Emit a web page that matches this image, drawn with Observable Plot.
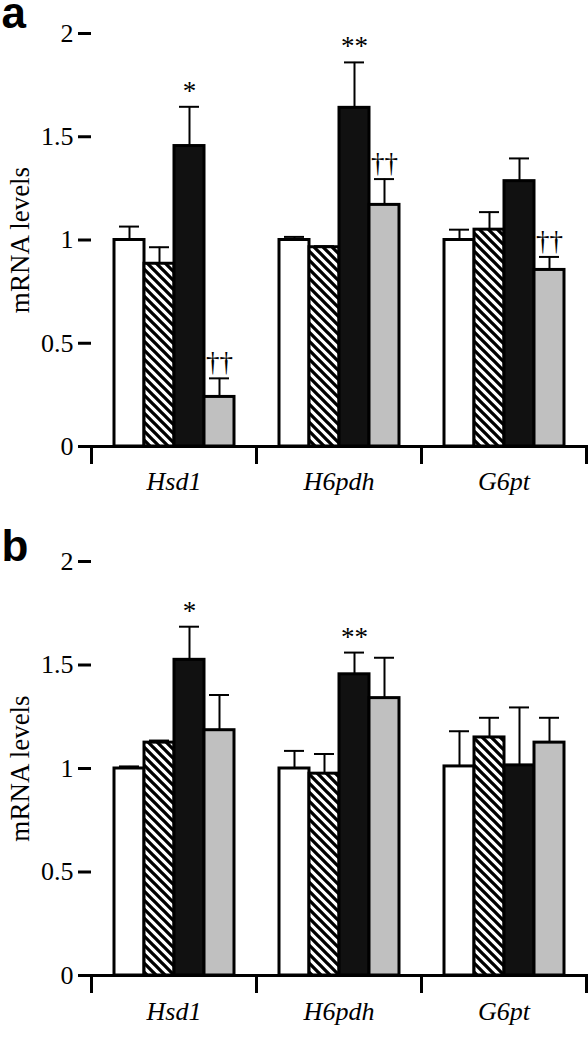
<!DOCTYPE html>
<html><head><meta charset="utf-8">
<script src="https://cdn.jsdelivr.net/npm/d3@7"></script>
<script src="https://cdn.jsdelivr.net/npm/@observablehq/plot@0.6"></script>
<style>
body{margin:0;background:#fff;}
#chart svg{display:block;}
</style>
</head><body>
<svg width="0" height="0" style="position:absolute"><defs>
<pattern id="hatch" patternUnits="userSpaceOnUse" width="9" height="9">
<rect width="9" height="9" fill="white"/>
<path d="M-2,-2 L11,11 M-2,7 L2,11 M7,-2 L11,2" stroke="black" stroke-width="3.3"/>
</pattern></defs></svg>
<div id="chart"></div>
<script>
const genes = ["Hsd1", "H6pdh", "G6pt"];
const groups = ["Group 1", "Group 2", "Group 3", "Group 4"];
const yTicks = [0, 0.5, 1, 1.5, 2];
const yTickLabels = ["0", "0.5", "1", "1.5", "2"];

// Panel a: rows = genes, columns = groups
const aMeans = [[1.00, 0.885, 1.455, 0.24], [1.00, 0.965, 1.64, 1.17], [1.00, 1.05, 1.285, 0.855]];
const aErrors = [[0.065, 0.08, 0.19, 0.09], [0.015, 0.005, 0.22, 0.125], [0.05, 0.085, 0.11, 0.063]];
const aSignif = [["", "", "*", "††"], ["", "", "**", "††"], ["", "", "", "††"]];

// Panel b
const bMeans = [[1.00, 1.125, 1.525, 1.185], [1.00, 0.975, 1.455, 1.34], [1.01, 1.15, 1.015, 1.125]];
const bErrors = [[0.01, 0.01, 0.16, 0.17], [0.085, 0.095, 0.105, 0.195], [0.17, 0.095, 0.28, 0.12]];
const bSignif = [["", "", "*", ""], ["", "", "**", ""], ["", "", "", ""]];

const groupFills = ["white", "url(#hatch)", "#111111", "#c0c0c0"];
const serif = "Liberation Serif";
const sans = "Liberation Sans";

function panel(letter, means, errors, signif, lay) {
  const rows = genes.flatMap((g, i) => groups.map((grp, j) => ({
    gene: g, group: grp, mean: means[i][j], err: errors[i][j],
    top: means[i][j] + errors[i][j], sig: signif[i][j]
  })));
  const plotH = lay.height - lay.marginTop - lay.marginBottom;
  const svg = Plot.plot({
    width: 588,
    height: lay.height,
    marginTop: lay.marginTop,
    marginBottom: lay.marginBottom,
    marginLeft: 90,
    marginRight: 2,
    style: {fontSize: "26px", color: "black", background: "white"},
    fx: {domain: genes, padding: 0, label: null},
    x: {domain: groups, type: "band", paddingInner: 0, paddingOuter: 0.73, axis: null},
    y: {domain: [0, 2], axis: null},
    color: {domain: groups, range: groupFills},
    marks: [
      Plot.barY(rows, {fx: "gene", x: "group", y: "mean", fill: "group", stroke: "black", strokeWidth: 3}),
      Plot.ruleX(rows, {fx: "gene", x: "group", y1: "mean", y2: "top", stroke: "black", strokeWidth: 2}),
      Plot.tickY(rows, {fx: "gene", x: "group", y: "top", stroke: "black", strokeWidth: 2, insetLeft: 5, insetRight: 5}),
      Plot.text(rows.filter(d => d.sig), {fx: "gene", x: "group", y: "top", text: "sig", lineAnchor: "bottom", dy: -7, fontSize: 27, fontFamily: serif}),
      Plot.ruleY([0], {stroke: "black", strokeWidth: 3}),
      Plot.frame({anchor: "left", stroke: "black", strokeWidth: 3, insetTop: plotH, insetBottom: -16}),
      Plot.frame({anchor: "right", stroke: "black", strokeWidth: 3, insetTop: plotH, insetBottom: -16}),
      Plot.axisY({ticks: yTicks, tickFormat: d => yTickLabels[yTicks.indexOf(d)], tickSize: 13, tickPadding: 5, fontSize: 26, fontFamily: serif, strokeWidth: 3, line: true, label: null}),
      Plot.axisFx({anchor: "bottom", tickSize: 0, tickPadding: lay.labelPad, fontSize: 26, fontFamily: serif, fontStyle: "italic", label: null}),
      Plot.text([genes[0]], {fx: d => d, frameAnchor: "left", rotate: -90, textAnchor: "middle", lineAnchor: "middle", dx: -71.5, text: () => "mRNA levels", fontSize: 27, fontFamily: serif}),
      Plot.text([genes[0]], {fx: d => d, frameAnchor: "top-left", dx: -90, dy: lay.letterDy, text: () => letter, textAnchor: "start", lineAnchor: "bottom", fontSize: 44, fontWeight: "bold", fontFamily: sans, className: "panel-letter"})
    ]
  });
  svg.setAttribute("font-family", serif);
  svg.querySelectorAll("text").forEach(t => t.setAttribute("font-family", serif));
  svg.querySelectorAll(".panel-letter text").forEach(t => t.setAttribute("font-family", sans));
  return svg;
}

const chart = document.getElementById("chart");
chart.append(panel("a", aMeans, aErrors, aSignif, {height: 505, marginTop: 33, marginBottom: 59, labelPad: 25.5, letterDy: -6}));
chart.append(panel("b", bMeans, bErrors, bSignif, {height: 545, marginTop: 56, marginBottom: 75, labelPad: 26.5, letterDy: -1}));
</script>
</body></html>
